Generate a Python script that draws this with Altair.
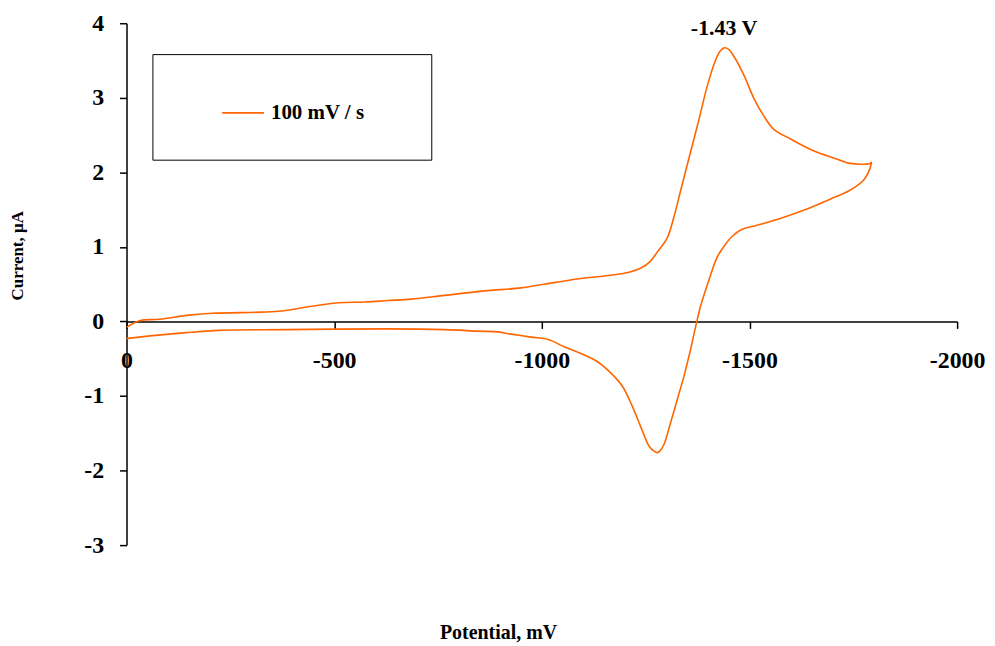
import altair as alt
import pandas as pd

# Forward (cathodic) scan, mV and µA
E_fwd = [0, -31, -79, -151, -207, -327, -374, -430, -510, -574, -630, -686, -766, -862, -950,
         -1006, -1086, -1166, -1210, -1240, -1260, -1278, -1302, -1318, -1334, -1358, -1378, -1398,
         -1418, -1430, -1439, -1450, -1462, -1486, -1510, -1534, -1558, -1598, -1654, -1710, -1742,
         -1790, -1794]
I_fwd = [-0.08, 0.01, 0.03, 0.085, 0.11, 0.125, 0.14, 0.19, 0.25, 0.26, 0.28, 0.30, 0.35, 0.41,
         0.45, 0.50, 0.57, 0.62, 0.66, 0.72, 0.80, 0.93, 1.12, 1.40, 1.75, 2.27, 2.70, 3.15, 3.50,
         3.63, 3.67, 3.65, 3.56, 3.31, 3.00, 2.76, 2.58, 2.45, 2.29, 2.18, 2.12, 2.12, 2.14]
# Reverse (anodic) scan
E_rev = [-1794, -1790, -1774, -1742, -1694, -1630, -1574, -1518, -1480, -1458, -1440, -1422,
         -1402, -1382, -1372, -1358, -1342, -1326, -1310, -1294, -1284, -1278, -1270, -1258,
         -1238, -1218, -1194, -1166, -1134, -1094, -1054, -1014, -974, -926, -894, -846, -766,
         -630, -383, -223, -143, -63, 0]
I_rev = [2.14, 2.05, 1.89, 1.76, 1.64, 1.49, 1.38, 1.29, 1.23, 1.14, 1.02, 0.86, 0.55, 0.20,
         -0.03, -0.38, -0.74, -1.05, -1.36, -1.65, -1.74, -1.76, -1.74, -1.67, -1.41, -1.14,
         -0.87, -0.69, -0.54, -0.43, -0.34, -0.24, -0.21, -0.17, -0.14, -0.13, -0.11, -0.10,
         -0.11, -0.12, -0.15, -0.19, -0.23]

series_name = "100 mV / s"
x_ticks = [0, -500, -1000, -1500, -2000]
y_ticks = [-3, -2, -1, 0, 1, 2, 3, 4]
peak_E = [-1439]
peak_I = [3.67]
peak_label = ["-1.43 V"]

E = E_fwd + E_rev
I = I_fwd + I_rev
df = pd.DataFrame({"E": E, "I": I, "idx": list(range(len(E))), "series": series_name})
ann = pd.DataFrame({"E": peak_E, "I": peak_I, "label": peak_label})

FONT = "Liberation Serif"
ORANGE = "#FF6600"

xscale = alt.Scale(domain=[0, -2000], nice=False, zero=False)
yscale = alt.Scale(domain=[-3, 4], nice=False, zero=False)

minus_expr = "datum.value < 0 ? '-' + format(abs(datum.value), 'd') : format(datum.value, 'd')"

line = alt.Chart(df).mark_line(strokeWidth=1.6, interpolate="catmull-rom").encode(
    x=alt.X("E:Q", scale=xscale,
            axis=alt.Axis(values=x_ticks, title="Potential, mV", offset=-224.6,
                          labelExpr=minus_expr, grid=False, tickSize=7,
                          labelPadding=20, labelFontSize=24, labelFlush=False,
                          labelOverlap=False, labelBound=False,
                          titleX=373, titleY=312, titleBaseline="middle",
                          titleAlign="center", titleFontSize=20)),
    y=alt.Y("I:Q", scale=yscale,
            axis=alt.Axis(values=y_ticks, title="Current, µA", labelExpr=minus_expr,
                          grid=False, tickSize=7, labelPadding=16, labelFontSize=24,
                          labelFlush=False, labelOverlap=False,
                          titleAngle=270, titleX=-109, titleY=233,
                          titleBaseline="middle", titleAlign="center", titleFontSize=17)),
    order="idx:Q",
    color=alt.Color("series:N", scale=alt.Scale(domain=[series_name], range=[ORANGE]),
                    legend=alt.Legend(title=None, orient="none", legendX=26, legendY=31,
                                      symbolType="stroke", symbolSize=1764,
                                      symbolStrokeWidth=1.6, symbolOffset=32,
                                      labelFontSize=21, labelFont=FONT,
                                      labelFontWeight="bold", labelColor="black",
                                      labelOffset=6, padding=37, labelLimit=400,
                                      labelExpr="datum.label + '\u2800\u2800'",
                                      strokeColor="black")),
)

text = alt.Chart(ann).mark_text(font=FONT, fontWeight="bold", fontSize=22, dy=-20,
                                color="black", baseline="middle").encode(
    x=alt.X("E:Q", scale=xscale),
    y=alt.Y("I:Q", scale=yscale),
    text="label:N",
)

chart = alt.layer(line, text).properties(
    width=834, height=524,
    autosize=alt.AutoSizeParams(type="none"),
    padding={"left": 119, "top": 14, "right": 30, "bottom": 100},
).configure_view(stroke=None).configure_axis(
    labelFont=FONT, titleFont=FONT, labelFontWeight="bold", titleFontWeight="bold",
    labelColor="black", titleColor="black", domainColor="black", tickColor="black",
    domainWidth=1.5, tickWidth=1.5,
)

chart.save("out.html", embed_options={"renderer": "svg", "actions": False})
